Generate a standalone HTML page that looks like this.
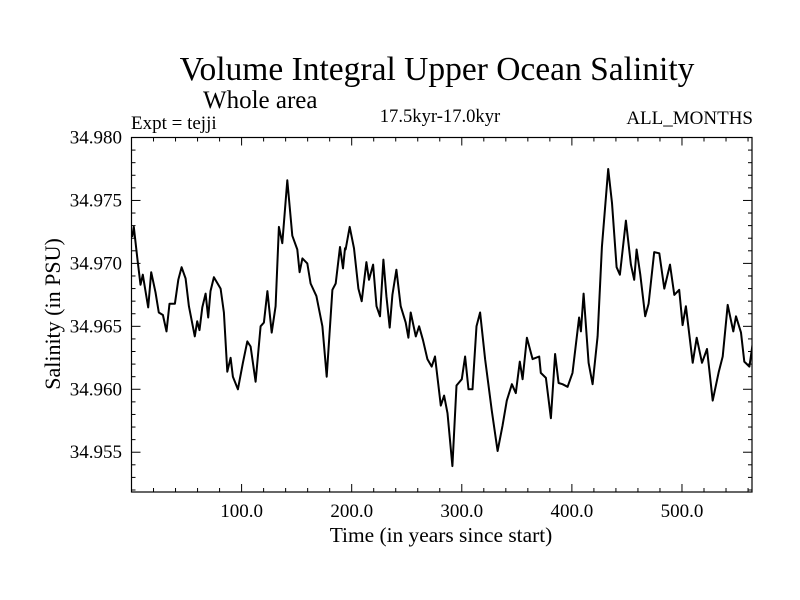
<!DOCTYPE html>
<html><head><meta charset="utf-8"><style>
html,body{margin:0;padding:0;background:#fff}
svg{display:block;font-family:"Liberation Serif",serif}
</style></head><body>
<svg id="chart" width="800" height="600" viewBox="0 0 800 600">
<text x="437" y="80" font-size="33.5" text-anchor="middle">Volume Integral Upper Ocean Salinity</text>
<text x="203" y="108" font-size="25">Whole area</text>
<text x="131" y="129" font-size="19">Expt = tejji</text>
<text x="440" y="122" font-size="18.6" text-anchor="middle">17.5kyr-17.0kyr</text>
<text x="753" y="124" font-size="19" text-anchor="end">ALL_MONTHS</text>
<text x="0" y="0" font-size="22" text-anchor="middle" transform="translate(60,314) rotate(-90)">Salinity (in PSU)</text>
<text x="441" y="542" font-size="21.4" text-anchor="middle">Time (in years since start)</text>
<g id="axes"></g>
<defs><clipPath id="clip"><rect x="131.5" y="137.5" width="620.5" height="354.5"/></clipPath></defs>
<path id="line" fill="none" stroke="#000" stroke-width="2" stroke-linejoin="round" clip-path="url(#clip)"/>
<rect x="131.5" y="137.5" width="620.5" height="354.5" fill="none" stroke="#000" stroke-width="1.2"/>
</svg>
<script>
const years = [0.6,2.1,5.2,8.2,10.3,12.7,15.2,17.9,21.8,24.8,28.5,31.8,34.5,39.4,42.5,45.5,49.1,52.1,57.5,59.7,61.8,64.3,67.3,69.7,71.8,74.8,80.9,83.9,87.0,90.0,92.1,96.6,101.2,105.2,108.2,112.7,117.3,120.3,123.4,127.3,130.9,133.9,137.0,141.5,146.1,150.6,152.7,155.2,159.7,162.7,167.9,173.4,177.3,182.5,185.5,189.4,192.1,193.9,194.5,198.2,202.1,206.1,209.1,213.4,215.7,219.4,222.5,225.7,228.8,231.5,234.5,237.0,240.6,244.5,249.1,251.5,253.6,258.2,261.2,264.8,268.8,272.7,275.7,280.9,283.9,287.0,291.5,295.2,300.0,303.0,306.1,309.7,313.4,316.6,321.2,327.3,332.5,337.0,340.9,345.5,349.1,352.7,355.2,359.1,364.3,370.3,371.8,376.4,380.9,384.8,387.9,391.5,396.1,400.6,406.6,408.2,410.6,415.2,418.8,423.4,427.3,433.0,436.4,440.6,443.6,449.1,453.6,456.6,458.8,462.1,466.6,469.7,474.8,479.4,483.9,489.1,493.0,497.5,500.6,503.6,509.7,513.4,518.2,522.7,527.9,533.4,537.0,541.5,546.6,549.1,553.6,556.6,561.2,564.3];
const salinity = [34.9721,34.9729,34.9705,34.9683,34.9691,34.9678,34.9665,34.9693,34.9677,34.9661,34.9659,34.9646,34.9668,34.9668,34.9687,34.9697,34.9688,34.9666,34.9642,34.9654,34.9647,34.9665,34.9676,34.9657,34.9678,34.9689,34.9680,34.9661,34.9614,34.9625,34.9610,34.9600,34.9621,34.9638,34.9634,34.9606,34.9650,34.9653,34.9678,34.9645,34.9666,34.9729,34.9716,34.9766,34.9722,34.9711,34.9693,34.9704,34.9700,34.9684,34.9674,34.9650,34.9610,34.9679,34.9684,34.9713,34.9696,34.9712,34.9711,34.9729,34.9712,34.9680,34.9670,34.9701,34.9687,34.9699,34.9666,34.9658,34.9703,34.9674,34.9649,34.9675,34.9695,34.9666,34.9653,34.9641,34.9661,34.9642,34.9650,34.9639,34.9624,34.9618,34.9626,34.9587,34.9595,34.9581,34.9539,34.9603,34.9608,34.9626,34.9600,34.9600,34.9650,34.9661,34.9624,34.9583,34.9551,34.9571,34.9591,34.9604,34.9597,34.9622,34.9608,34.9641,34.9624,34.9626,34.9613,34.9609,34.9577,34.9628,34.9605,34.9604,34.9602,34.9613,34.9657,34.9646,34.9676,34.9621,34.9604,34.9642,34.9713,34.9775,34.9748,34.9697,34.9691,34.9734,34.9699,34.9687,34.9711,34.9691,34.9658,34.9668,34.9709,34.9708,34.9680,34.9699,34.9675,34.9679,34.9651,34.9666,34.9621,34.9641,34.9621,34.9632,34.9591,34.9614,34.9626,34.9667,34.9646,34.9658,34.9645,34.9622,34.9618,34.9637];
const xTicks = [100,200,300,400,500];
const xTickLabels = ["100.0","200.0","300.0","400.0","500.0"];
const yTicks = [34.955,34.960,34.965,34.970,34.975,34.980];
const yTickLabels = ["34.955","34.960","34.965","34.970","34.975","34.980"];

const X0=131.5, X1=752, Y0=492, Y1=137.5;
const xMin=0, xMax=563.6, yMin=34.95184, yMax=34.980;
function sx(v){return X0+(v-xMin)/(xMax-xMin)*(X1-X0);}
function sy(v){return Y0-(v-yMin)/(yMax-yMin)*(Y0-Y1);}
const NS="http://www.w3.org/2000/svg";
const axes=document.getElementById('axes');
function ln(x1,y1,x2,y2,name){
  const l=document.createElementNS(NS,'line');
  l.setAttribute('x1',x1);l.setAttribute('y1',y1);l.setAttribute('x2',x2);l.setAttribute('y2',y2);
  l.setAttribute('stroke','#000');l.setAttribute('stroke-width','1');
  
  
  axes.appendChild(l);
}
function tx(x,y,s,anchor,name){
  const t=document.createElementNS(NS,'text');
  t.setAttribute('x',x);t.setAttribute('y',y);t.setAttribute('font-size','19');t.setAttribute('text-anchor',anchor);
  t.textContent=s;
  
  
  axes.appendChild(t);
}
for(let v=20; v<xMax; v+=20){
  const x=sx(v); const major = v%100===0; const len = major?8:4;
  ln(x,Y0,x,Y0-len,'x-tick');
  ln(x,Y1,x,Y1+len,'x-tick-top');
}
xTicks.forEach((v,i)=>tx(sx(v),Y0+25,xTickLabels[i],'middle','x-tick-label'));
for(let k=Math.ceil(yMin*1000); k<=34980; k++){
  const v=k/1000; const y=sy(v); const major=k%5===0; const len=major?9:4;
  ln(X0,y,X0+len,y,'y-tick');
  ln(X1,y,X1-len,y,'y-tick-right');
}
yTicks.forEach((v,i)=>tx(122,sy(v)+6,yTickLabels[i],'end','y-tick-label'));
let d='';
years.forEach((v,i)=>{d+=(i?'L':'M')+sx(v).toFixed(1)+','+sy(salinity[i]).toFixed(1);});
document.getElementById('line').setAttribute('d',d);
</script>
</body></html>
